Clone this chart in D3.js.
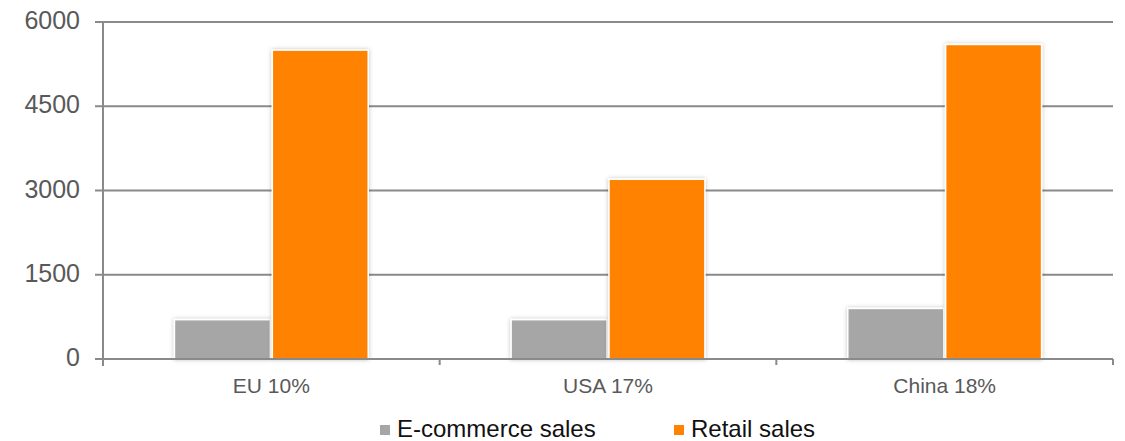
<!DOCTYPE html>
<html>
<head>
<meta charset="utf-8">
<script src="https://cdn.jsdelivr.net/npm/d3@7"></script>
<style>
  body { margin: 0; background: #fff; }
  svg { display: block; font-family: "Liberation Sans", Arial, sans-serif; }
</style>
</head>
<body>
<svg id="chart" width="1125" height="441"></svg>
<script>
// chart data
const categories = ["EU 10%", "USA 17%", "China 18%"];
const seriesNames = ["E-commerce sales", "Retail sales"];
const ecommerce = [700, 700, 900];
const retail = [5500, 3200, 5600];
const yTicks = [0, 1500, 3000, 4500, 6000];

const colors = { "E-commerce sales": "#a6a6a6", "Retail sales": "#ff8300" };
const axisColor = "#8a8a8a";

const svg = d3.select("#chart");
const plotLeft = 103, plotRight = 1113, plotTop = 22, plotBottom = 359;

const x0 = d3.scaleBand().domain(categories).range([plotLeft, plotRight]).padding(0);
const x1 = d3.scaleBand().domain(seriesNames)
  .range([0, x0.bandwidth()]).paddingInner(0.02).paddingOuter(0.73);
const y = d3.scaleLinear().domain([0, 6000]).range([plotBottom, plotTop]);

// drop shadow for bars
const defs = svg.append("defs");
const f = defs.append("filter").attr("id", "shadow")
  .attr("x", "-20%").attr("y", "-20%").attr("width", "140%").attr("height", "140%");
f.append("feDropShadow").attr("dx", 0).attr("dy", 0).attr("stdDeviation", 2)
  .attr("flood-color", "#000").attr("flood-opacity", 0.25);

// gridlines (with ticks on the left)
svg.append("g").selectAll("line").data(yTicks).join("line")
  .attr("x1", plotLeft - 8).attr("x2", plotRight)
  .attr("y1", d => y(d)).attr("y2", d => y(d))
  .attr("stroke", axisColor).attr("stroke-width", 2);

// y labels
svg.append("g").selectAll("text").data(yTicks).join("text")
  .attr("x", 80).attr("y", d => y(d)).attr("dy", "0.28em")
  .attr("text-anchor", "end").attr("font-size", 25).attr("fill", "#595959")
  .text(d => d);

// bars
const rows = categories.map((c, i) => ({ cat: c, vals: [ecommerce[i], retail[i]] }));
const groups = svg.append("g").selectAll("g").data(rows).join("g")
  .attr("transform", d => `translate(${x0(d.cat)},0)`);
groups.selectAll("rect").data(d => d.vals.map((v, k) => ({ s: seriesNames[k], v })))
  .join("rect")
  .attr("x", d => x1(d.s)).attr("width", x1.bandwidth())
  .attr("y", d => y(d.v)).attr("height", d => y(0) - y(d.v))
  .attr("fill", d => colors[d.s])
  .attr("stroke", "#fff").attr("stroke-width", 1.5)
  .attr("filter", "url(#shadow)");

// y axis line
svg.append("line").attr("x1", plotLeft).attr("x2", plotLeft)
  .attr("y1", plotTop - 1).attr("y2", plotBottom + 7)
  .attr("stroke", axisColor).attr("stroke-width", 2);

// x axis line + category ticks
svg.append("line").attr("x1", plotLeft).attr("x2", plotRight)
  .attr("y1", plotBottom).attr("y2", plotBottom)
  .attr("stroke", axisColor).attr("stroke-width", 2);
const bounds = categories.map(c => x0(c) + x0.bandwidth());
svg.append("g").selectAll("line").data(bounds).join("line")
  .attr("x1", d => d).attr("x2", d => d)
  .attr("y1", plotBottom).attr("y2", plotBottom + 6)
  .attr("stroke", axisColor).attr("stroke-width", 2);

// category labels
svg.append("g").selectAll("text").data(categories).join("text")
  .attr("x", d => x0(d) + x0.bandwidth() / 2).attr("y", 393)
  .attr("text-anchor", "middle").attr("font-size", 21).attr("fill", "#595959")
  .text(d => d);

// legend
const legendX = [380, 674];
const legend = svg.append("g").selectAll("g").data(seriesNames).join("g")
  .attr("transform", (d, i) => `translate(${legendX[i]},0)`);
legend.append("rect").attr("x", 0).attr("y", 425).attr("width", 10).attr("height", 10)
  .attr("fill", d => colors[d]);
legend.append("text").attr("x", 17).attr("y", 437)
  .attr("font-size", 24).attr("fill", "#111")
  .text(d => d);
</script>
</body>
</html>
